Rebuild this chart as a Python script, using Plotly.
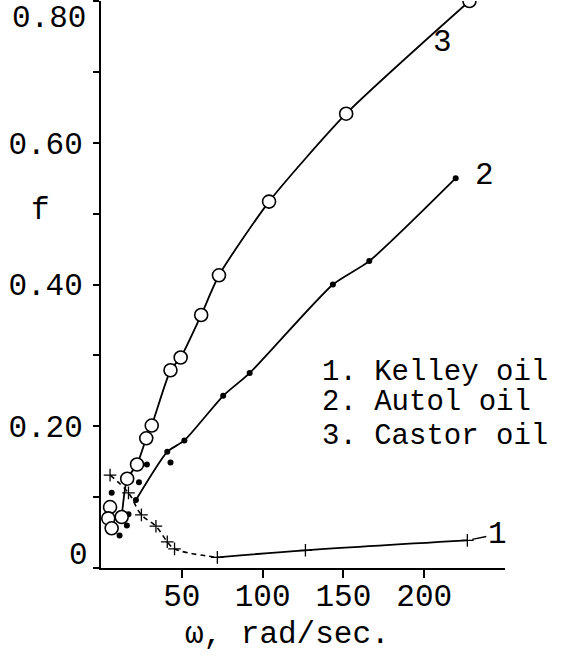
import plotly.graph_objects as go

# ---- data ----
castor_w = [12.8, 16.2, 22.3, 28.0, 31.4, 43.0, 49.3, 62.0, 73.0, 104.0, 151.7, 228.0]
castor_f = [0.072, 0.126, 0.146, 0.183, 0.201, 0.279, 0.297, 0.357, 0.413, 0.517, 0.641, 0.800]
castor_extra_w = [5.6, 4.5, 6.6]
castor_extra_f = [0.086, 0.070, 0.056]

autol_w = [21.6, 41.0, 51.6, 75.6, 92.0, 143.5, 166.0, 219.5]
autol_f = [0.096, 0.164, 0.180, 0.243, 0.275, 0.400, 0.433, 0.550]
autol_extra_w = [23.5, 28.4, 43.0, 6.6, 17.0, 16.0, 11.5]
autol_extra_f = [0.121, 0.146, 0.149, 0.106, 0.076, 0.060, 0.046]

kelley_w = [5.6, 17.0, 25.0, 34.0, 41.0, 45.5, 72.0, 126.5, 226.7]
kelley_f = [0.131, 0.106, 0.075, 0.059, 0.037, 0.027, 0.015, 0.025, 0.039]
kelley_min_index = 6

y_tickvals = [0, 0.1, 0.2, 0.3, 0.4, 0.5, 0.6, 0.7, 0.8]
y_ticktext = ["", "", "0.20", "", "0.40", "", "0.60", "", ""]
x_tickvals = [50, 100, 150, 200]
x_ticktext = ["50", "100", "150", "200"]
legend_lines = ["1. Kelley oil", "2. Autol oil", "3. Castor oil"]

FONT = "Liberation Mono"
FS = 31
K = "black"

fig = go.Figure()

# Kelley oil: descending dashed part, rising solid part
fig.add_trace(go.Scatter(x=kelley_w[:kelley_min_index + 1], y=kelley_f[:kelley_min_index + 1],
                         mode="lines", line=dict(color=K, width=1.6, dash="5px,4px", shape="spline"),
                         showlegend=False))
fig.add_trace(go.Scatter(x=kelley_w[kelley_min_index:], y=kelley_f[kelley_min_index:],
                         mode="lines", line=dict(color=K, width=1.8, shape="spline"),
                         showlegend=False))
fig.add_trace(go.Scatter(x=kelley_w, y=kelley_f, mode="markers",
                         marker=dict(symbol="cross-thin", size=9, line=dict(color=K, width=1.3)),
                         showlegend=False))

# Autol oil
fig.add_trace(go.Scatter(x=autol_w, y=autol_f, mode="lines+markers",
                         line=dict(color=K, width=1.8, shape="spline", smoothing=0.6),
                         marker=dict(symbol="circle", size=6, color=K),
                         showlegend=False))
fig.add_trace(go.Scatter(x=autol_extra_w, y=autol_extra_f, mode="markers",
                         marker=dict(symbol="circle", size=6, color=K),
                         showlegend=False))

# Castor oil
fig.add_trace(go.Scatter(x=castor_w, y=castor_f, mode="lines+markers",
                         line=dict(color=K, width=1.8, shape="spline", smoothing=0.6),
                         marker=dict(symbol="circle", size=13, color="white", line=dict(color=K, width=1.6)),
                         showlegend=False))
fig.add_trace(go.Scatter(x=castor_extra_w, y=castor_extra_f, mode="markers",
                         marker=dict(symbol="circle", size=13, color="white", line=dict(color=K, width=1.6)),
                         showlegend=False))

ann = []
legend_y = [0.2765, 0.233, 0.186]
for t, yv in zip(legend_lines, legend_y):
    ann.append(dict(x=135.5, y=yv, xref="x", yref="y", text=t, showarrow=False,
                    xanchor="left", yanchor="middle", font=dict(family=FONT, size=29, color=K)))
# curve labels
ann.append(dict(x=211.6, y=0.741, xref="x", yref="y", text="3", showarrow=False,
                font=dict(family=FONT, size=FS, color=K)))
ann.append(dict(x=237.6, y=0.554, xref="x", yref="y", text="2", showarrow=False,
                font=dict(family=FONT, size=FS, color=K)))
ann.append(dict(x=kelley_w[-1], y=kelley_f[-1], xref="x", yref="y", text="1", showarrow=True,
                arrowhead=0, arrowwidth=1.5, arrowcolor=K, ax=30, ay=-6, standoff=5,
                font=dict(family=FONT, size=FS, color=K)))
# axis labels
ann.append(dict(x=-0.178, y=0.505, xref="paper", yref="y", text="f", showarrow=False,
                font=dict(family=FONT, size=FS, color=K)))
ann.append(dict(x=115.7, y=0, xref="x", yref="paper", yshift=-66, text="ω, rad/sec.",
                showarrow=False, yanchor="middle", font=dict(family=FONT, size=FS, color=K)))
# end tick labels of y axis
ann.append(dict(x=0, y=0.8, xref="paper", yref="y", yshift=-17, xshift=-13, text="0.80",
                showarrow=False, xanchor="right", font=dict(family=FONT, size=FS, color=K)))
ann.append(dict(x=0, y=0, xref="paper", yref="y", yshift=13, xshift=-11, text="0",
                showarrow=False, xanchor="right", font=dict(family=FONT, size=FS, color=K)))

fig.update_layout(
    width=577, height=663,
    margin=dict(l=101, r=72, t=1, b=95),
    paper_bgcolor="white", plot_bgcolor="white",
    showlegend=False,
    annotations=ann,
    xaxis=dict(range=[0, 250], showgrid=False, zeroline=False, showline=True, linecolor=K,
               linewidth=2, ticks="outside", ticklen=8, tickwidth=1.5, tickcolor=K,
               tickvals=x_tickvals, ticktext=x_ticktext, ticklabelstandoff=-9,
               tickfont=dict(family=FONT, size=FS, color=K)),
    yaxis=dict(range=[0, 0.8], showgrid=False, zeroline=False, showline=True, linecolor=K,
               linewidth=2, ticks="outside", ticklen=6, tickwidth=1.5, tickcolor=K,
               tickvals=y_tickvals, ticktext=y_ticktext, ticklabelstandoff=4,
               tickfont=dict(family=FONT, size=FS, color=K)),
)

fig.write_html("out.html")
